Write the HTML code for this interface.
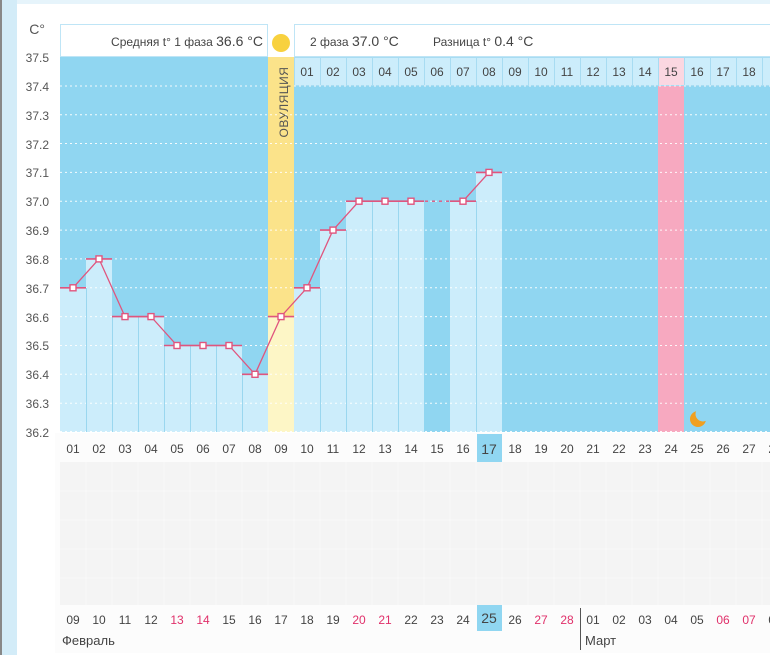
<!DOCTYPE html>
<html><head><meta charset="utf-8"><style>
body{margin:0;background:#fff;width:770px;height:655px;overflow:hidden}
svg{display:block;font-family:"Liberation Sans","DejaVu Sans",sans-serif}
</style></head><body>
<svg width="770" height="655" viewBox="0 0 770 655">
<rect x="0" y="0" width="770" height="655" fill="#fff"/>
<rect x="0" y="0" width="17" height="655" fill="#d3ecf8"/>
<rect x="0" y="0" width="2" height="655" fill="#888"/>
<rect x="17" y="0" width="753" height="4" fill="#e6f4fb"/>
<rect x="60" y="57" width="710" height="375" fill="#90d6f1"/>
<rect x="60.5" y="24.5" width="207" height="32" fill="#fff" stroke="#bfe5f6"/>
<rect x="294.5" y="24.5" width="480" height="32" fill="#fff" stroke="#bfe5f6"/>
<rect x="268" y="24" width="26" height="33" fill="#fff"/>
<circle cx="281" cy="43" r="9" fill="#f8d13e"/>
<text x="263" y="46" font-size="12" fill="#444" text-anchor="end">Средняя t° 1 фаза <tspan font-size="14">36.6 °C</tspan></text>
<text x="310" y="46" font-size="12" fill="#444">2 фаза <tspan font-size="14">37.0 °C</tspan></text>
<text x="433" y="46" font-size="12" fill="#444">Разница t° <tspan font-size="14">0.4 °C</tspan></text>
<rect x="268" y="57" width="26" height="260" fill="#fbe38a"/>
<rect x="268" y="317" width="26" height="115" fill="#fdf6c6"/>
<text transform="translate(288,102) rotate(-90)" font-size="12" fill="#555" text-anchor="middle" letter-spacing="0.5">ОВУЛЯЦИЯ</text>
<rect x="658" y="86" width="26" height="346" fill="#f7a9c0"/>
<g fill="#ccedfb" stroke="#a8dcf2" stroke-width="1">
<rect x="294.5" y="57.5" width="26" height="28"/><rect x="320.5" y="57.5" width="26" height="28"/><rect x="346.5" y="57.5" width="26" height="28"/><rect x="372.5" y="57.5" width="26" height="28"/><rect x="398.5" y="57.5" width="26" height="28"/><rect x="424.5" y="57.5" width="26" height="28"/><rect x="450.5" y="57.5" width="26" height="28"/><rect x="476.5" y="57.5" width="26" height="28"/><rect x="502.5" y="57.5" width="26" height="28"/><rect x="528.5" y="57.5" width="26" height="28"/><rect x="554.5" y="57.5" width="26" height="28"/><rect x="580.5" y="57.5" width="26" height="28"/><rect x="606.5" y="57.5" width="26" height="28"/><rect x="632.5" y="57.5" width="26" height="28"/><rect x="658.5" y="57.5" width="26" height="28" fill="#fbd7e1"/><rect x="684.5" y="57.5" width="26" height="28"/><rect x="710.5" y="57.5" width="26" height="28"/><rect x="736.5" y="57.5" width="26" height="28"/><rect x="762.5" y="57.5" width="26" height="28"/>
</g>
<g font-size="12" fill="#444" text-anchor="middle">
<text x="307" y="76">01</text><text x="333" y="76">02</text><text x="359" y="76">03</text><text x="385" y="76">04</text><text x="411" y="76">05</text><text x="437" y="76">06</text><text x="463" y="76">07</text><text x="489" y="76">08</text><text x="515" y="76">09</text><text x="541" y="76">10</text><text x="567" y="76">11</text><text x="593" y="76">12</text><text x="619" y="76">13</text><text x="645" y="76">14</text><text x="671" y="76">15</text><text x="697" y="76">16</text><text x="723" y="76">17</text><text x="749" y="76">18</text>
</g>
<g fill="#ccedfb">
<rect x="60" y="288" width="26" height="144"/><rect x="86" y="259" width="26" height="173"/><rect x="112" y="317" width="26" height="115"/><rect x="138" y="317" width="26" height="115"/><rect x="164" y="345" width="26" height="87"/><rect x="190" y="345" width="26" height="87"/><rect x="216" y="345" width="26" height="87"/><rect x="242" y="374" width="26" height="58"/>
<rect x="294" y="288" width="26" height="144"/><rect x="320" y="230" width="26" height="202"/><rect x="346" y="201" width="26" height="231"/><rect x="372" y="201" width="26" height="231"/><rect x="398" y="201" width="26" height="231"/><rect x="450" y="201" width="26" height="231"/><rect x="476" y="172" width="26" height="260"/>
</g>
<g stroke="#fff" stroke-width="1" stroke-dasharray="2,3" opacity="0.9">
<line x1="60" x2="268" y1="86" y2="86"/><line x1="294" x2="770" y1="86" y2="86"/>
<line x1="60" x2="770" y1="114.7" y2="114.7"/><line x1="60" x2="770" y1="143.5" y2="143.5"/><line x1="60" x2="770" y1="172.4" y2="172.4"/><line x1="60" x2="770" y1="201.2" y2="201.2"/><line x1="60" x2="770" y1="230.1" y2="230.1"/><line x1="60" x2="770" y1="258.9" y2="258.9"/><line x1="60" x2="770" y1="287.8" y2="287.8"/><line x1="60" x2="770" y1="316.6" y2="316.6"/><line x1="60" x2="770" y1="345.5" y2="345.5"/><line x1="60" x2="770" y1="374.3" y2="374.3"/><line x1="60" x2="770" y1="403.2" y2="403.2"/><line x1="60" x2="770" y1="431.5" y2="431.5"/>
</g>
<g stroke="#9ad7ef" stroke-width="1">
<line x1="86.5" x2="86.5" y1="288" y2="432"/><line x1="112.5" x2="112.5" y1="317" y2="432"/><line x1="138.5" x2="138.5" y1="317" y2="432"/><line x1="164.5" x2="164.5" y1="345" y2="432"/><line x1="190.5" x2="190.5" y1="345" y2="432"/><line x1="216.5" x2="216.5" y1="345" y2="432"/><line x1="242.5" x2="242.5" y1="374" y2="432"/>
<line x1="320.5" x2="320.5" y1="288" y2="432"/><line x1="346.5" x2="346.5" y1="230" y2="432"/><line x1="372.5" x2="372.5" y1="201" y2="432"/><line x1="398.5" x2="398.5" y1="201" y2="432"/><line x1="476.5" x2="476.5" y1="201" y2="432"/>
</g>
<g stroke="#e0557e" stroke-width="1.3" fill="none">
<polyline points="73,287.8 99,258.9 125,316.6 151,316.6 177,345.5 203,345.5 229,345.5 255,374.3 281,316.6 307,287.8 333,230.1 359,201.2 385,201.2 411,201.2"/>
<line x1="411" y1="201.2" x2="463" y2="201.2" stroke-dasharray="3,4"/>
<polyline points="463,201.2 489,172.4"/>
<g stroke-width="1.6">
<line x1="60" x2="86" y1="287.8" y2="287.8"/><line x1="86" x2="112" y1="258.9" y2="258.9"/><line x1="112" x2="138" y1="316.6" y2="316.6"/><line x1="138" x2="164" y1="316.6" y2="316.6"/><line x1="164" x2="190" y1="345.5" y2="345.5"/><line x1="190" x2="216" y1="345.5" y2="345.5"/><line x1="216" x2="242" y1="345.5" y2="345.5"/><line x1="242" x2="268" y1="374.3" y2="374.3"/><line x1="268" x2="294" y1="316.6" y2="316.6"/><line x1="294" x2="320" y1="287.8" y2="287.8"/><line x1="320" x2="346" y1="230.1" y2="230.1"/><line x1="346" x2="372" y1="201.2" y2="201.2"/><line x1="372" x2="398" y1="201.2" y2="201.2"/><line x1="398" x2="424" y1="201.2" y2="201.2"/><line x1="450" x2="476" y1="201.2" y2="201.2"/><line x1="476" x2="502" y1="172.4" y2="172.4"/>
</g>
</g>
<g fill="#fff" stroke="#e0557e" stroke-width="1.4">
<rect x="70" y="284.8" width="6" height="6"/><rect x="96" y="255.9" width="6" height="6"/><rect x="122" y="313.6" width="6" height="6"/><rect x="148" y="313.6" width="6" height="6"/><rect x="174" y="342.5" width="6" height="6"/><rect x="200" y="342.5" width="6" height="6"/><rect x="226" y="342.5" width="6" height="6"/><rect x="252" y="371.3" width="6" height="6"/><rect x="278" y="313.6" width="6" height="6"/><rect x="304" y="284.8" width="6" height="6"/><rect x="330" y="227.1" width="6" height="6"/><rect x="356" y="198.2" width="6" height="6"/><rect x="382" y="198.2" width="6" height="6"/><rect x="408" y="198.2" width="6" height="6"/><rect x="460" y="198.2" width="6" height="6"/><rect x="486" y="169.4" width="6" height="6"/>
</g>
<circle cx="698" cy="419" r="8" fill="#f0a020"/>
<circle cx="703" cy="414" r="7.5" fill="#90d6f1"/>
<g font-size="12" fill="#555" text-anchor="end">
<text x="45" y="34" font-size="14">C°</text>
<text x="49" y="62">37.5</text><text x="49" y="91">37.4</text><text x="49" y="120">37.3</text><text x="49" y="149">37.2</text><text x="49" y="177">37.1</text><text x="49" y="206">37.0</text><text x="49" y="235">36.9</text><text x="49" y="264">36.8</text><text x="49" y="293">36.7</text><text x="49" y="322">36.6</text><text x="49" y="350">36.5</text><text x="49" y="379">36.4</text><text x="49" y="408">36.3</text><text x="49" y="437">36.2</text>
</g>
<rect x="55" y="433" width="715" height="220" fill="#fcfcfc"/>
<rect x="60" y="462" width="710" height="143" fill="#f4f4f4"/>
<g stroke="#f9f9f9" stroke-width="1">
<line x1="60" x2="770" y1="491" y2="491"/><line x1="60" x2="770" y1="520" y2="520"/><line x1="60" x2="770" y1="549" y2="549"/><line x1="60" x2="770" y1="578" y2="578"/>
<line x1="86" x2="86" y1="462" y2="605"/><line x1="112" x2="112" y1="462" y2="605"/><line x1="138" x2="138" y1="462" y2="605"/><line x1="164" x2="164" y1="462" y2="605"/><line x1="190" x2="190" y1="462" y2="605"/><line x1="216" x2="216" y1="462" y2="605"/><line x1="242" x2="242" y1="462" y2="605"/><line x1="268" x2="268" y1="462" y2="605"/><line x1="294" x2="294" y1="462" y2="605"/><line x1="320" x2="320" y1="462" y2="605"/><line x1="346" x2="346" y1="462" y2="605"/><line x1="372" x2="372" y1="462" y2="605"/><line x1="398" x2="398" y1="462" y2="605"/><line x1="424" x2="424" y1="462" y2="605"/><line x1="450" x2="450" y1="462" y2="605"/><line x1="476" x2="476" y1="462" y2="605"/><line x1="502" x2="502" y1="462" y2="605"/><line x1="528" x2="528" y1="462" y2="605"/><line x1="554" x2="554" y1="462" y2="605"/><line x1="580" x2="580" y1="462" y2="605"/><line x1="606" x2="606" y1="462" y2="605"/><line x1="632" x2="632" y1="462" y2="605"/><line x1="658" x2="658" y1="462" y2="605"/><line x1="684" x2="684" y1="462" y2="605"/><line x1="710" x2="710" y1="462" y2="605"/><line x1="736" x2="736" y1="462" y2="605"/><line x1="762" x2="762" y1="462" y2="605"/>
</g>
<rect x="477" y="434" width="25" height="28" fill="#90d6f1"/>
<rect x="477" y="605" width="25" height="26" fill="#90d6f1"/>
<g font-size="12" fill="#444" text-anchor="middle">
<text x="73" y="453">01</text><text x="99" y="453">02</text><text x="125" y="453">03</text><text x="151" y="453">04</text><text x="177" y="453">05</text><text x="203" y="453">06</text><text x="229" y="453">07</text><text x="255" y="453">08</text><text x="281" y="453">09</text><text x="307" y="453">10</text><text x="333" y="453">11</text><text x="359" y="453">12</text><text x="385" y="453">13</text><text x="411" y="453">14</text><text x="437" y="453">15</text><text x="463" y="453">16</text><text x="489" y="454" font-size="14">17</text><text x="515" y="453">18</text><text x="541" y="453">19</text><text x="567" y="453">20</text><text x="593" y="453">21</text><text x="619" y="453">22</text><text x="645" y="453">23</text><text x="671" y="453">24</text><text x="697" y="453">25</text><text x="723" y="453">26</text><text x="749" y="453">27</text><text x="775" y="453">28</text>
<text x="73" y="624">09</text><text x="99" y="624">10</text><text x="125" y="624">11</text><text x="151" y="624">12</text><text x="177" y="624" fill="#e0306a">13</text><text x="203" y="624" fill="#e0306a">14</text><text x="229" y="624">15</text><text x="255" y="624">16</text><text x="281" y="624">17</text><text x="307" y="624">18</text><text x="333" y="624">19</text><text x="359" y="624" fill="#e0306a">20</text><text x="385" y="624" fill="#e0306a">21</text><text x="411" y="624">22</text><text x="437" y="624">23</text><text x="463" y="624">24</text><text x="489" y="623" font-size="14">25</text><text x="515" y="624">26</text><text x="541" y="624" fill="#e0306a">27</text><text x="567" y="624" fill="#e0306a">28</text><text x="593" y="624">01</text><text x="619" y="624">02</text><text x="645" y="624">03</text><text x="671" y="624">04</text><text x="697" y="624">05</text><text x="723" y="624" fill="#e0306a">06</text><text x="749" y="624" fill="#e0306a">07</text><text x="775" y="624">08</text>
</g>
<line x1="580.5" x2="580.5" y1="608" y2="650" stroke="#555" stroke-width="1"/>
<text x="62" y="645" font-size="13" fill="#444">Февраль</text>
<text x="585" y="645" font-size="13" fill="#444">Март</text>
</svg>
</body></html>
